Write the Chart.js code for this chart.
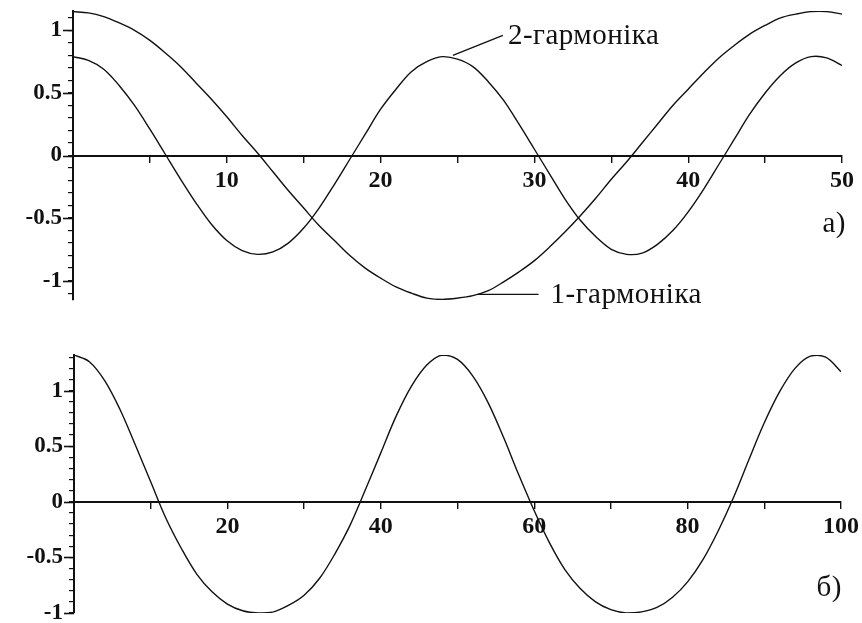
<!DOCTYPE html>
<html>
<head>
<meta charset="utf-8">
<script src="https://cdn.jsdelivr.net/npm/chart.js@4.4.0/dist/chart.umd.min.js"></script>
<style>
  html, body { margin: 0; padding: 0; background: #fff; }
  #wrap { position: relative; width: 862px; height: 623px; }
  .box { position: absolute; left: 0; width: 862px; }
  #top { top: 0; height: 320px; }
  #bottom { top: 320px; height: 303px; }
</style>
</head>
<body>
<div id="wrap">
  <div class="box" id="top"><canvas id="chartA"></canvas></div>
  <div class="box" id="bottom"><canvas id="chartB"></canvas></div>
</div>
<script>
// а) first and second harmonic, sampled every 1 unit from 0 to 50
const stepA = 1;
const harm1 = [1.15, 1.14, 1.11, 1.06, 1.00, 0.92, 0.82, 0.71, 0.58, 0.45, 0.31, 0.16, 0.02, -0.13, -0.28, -0.42, -0.56,
  -0.68, -0.80, -0.90, -0.98, -1.05, -1.10, -1.14, -1.15, -1.14, -1.12, -1.08, -1.01, -0.93, -0.84, -0.73, -0.61,
  -0.48, -0.34, -0.19, -0.05, 0.10, 0.25, 0.40, 0.53, 0.66, 0.78, 0.88, 0.97, 1.04, 1.10, 1.13, 1.15, 1.15, 1.13];
const harm2 = [0.79, 0.76, 0.69, 0.56, 0.40, 0.21, 0.01, -0.19, -0.38, -0.55, -0.68, -0.76, -0.79, -0.77, -0.70, -0.58,
  -0.42, -0.23, -0.03, 0.17, 0.37, 0.53, 0.67, 0.75, 0.79, 0.77, 0.71, 0.59, 0.44, 0.25, 0.05, -0.15, -0.35, -0.52,
  -0.65, -0.75, -0.79, -0.78, -0.71, -0.60, -0.45, -0.27, -0.07, 0.13, 0.33, 0.50, 0.64, 0.74, 0.79, 0.78, 0.72];

// б) resulting signal, sampled every 2 units from 0 to 100
const stepB = 2;
const signal = [1.32, 1.26, 1.09, 0.83, 0.51, 0.18, -0.15, -0.42, -0.65, -0.81, -0.92, -0.98, -1.00, -0.99, -0.93,
  -0.84, -0.69, -0.47, -0.21, 0.11, 0.44, 0.77, 1.04, 1.23, 1.32, 1.28, 1.13, 0.89, 0.58, 0.24, -0.08, -0.37, -0.61,
  -0.78, -0.90, -0.97, -1.00, -0.99, -0.95, -0.86, -0.72, -0.52, -0.26, 0.04, 0.38, 0.71, 0.99, 1.20, 1.31, 1.30, 1.17];

const seriesNames = ['1-гармоніка', '2-гармоніка'];
const panelNames = ['а)', 'б)'];

const ink = '#111';
const serif = '"Liberation Serif", "Times New Roman", serif';

const toPoints = (vals, step) => vals.map((v, i) => ({ x: i * step, y: v }));
const isHalf = v => Math.abs(v * 2 - Math.round(v * 2)) < 1e-6;

// longer marks at every 0.5 on the y axis (the 0 mark runs the x axis a bit to the left)
const majorTicks = {
  id: 'majorTicks',
  afterDraw(chart) {
    const y = chart.scales.y, ctx = chart.ctx, left = chart.chartArea.left;
    ctx.save();
    ctx.strokeStyle = ink;
    ctx.lineWidth = 1.6;
    y.ticks.forEach(t => {
      if (!isHalf(t.value)) return;
      const py = Math.round(y.getPixelForValue(t.value)) + 0.5;
      ctx.beginPath();
      ctx.moveTo(left - 10, py);
      ctx.lineTo(left, py);
      ctx.stroke();
    });
    ctx.restore();
  }
};

// text notes with optional leader lines, anchored in data coordinates
const notes = {
  id: 'notes',
  afterDatasetsDraw(chart, args, opts) {
    const { x, y } = chart.scales, ctx = chart.ctx;
    ctx.save();
    ctx.strokeStyle = ink;
    ctx.fillStyle = ink;
    ctx.lineWidth = 1.3;
    ctx.font = opts.font;
    ctx.letterSpacing = '0.5px';
    ctx.textBaseline = 'middle';
    opts.items.forEach(n => {
      const px = x.getPixelForValue(n.at[0]), py = y.getPixelForValue(n.at[1]);
      if (n.line) {
        ctx.beginPath();
        ctx.moveTo(px, py);
        ctx.lineTo(px + n.dx, py + n.dy);
        ctx.stroke();
      }
      ctx.textAlign = n.align || 'left';
      ctx.fillText(n.text, px + n.dx + (n.gap || 0), py + n.dy + 1);
    });
    ctx.restore();
  }
};

function lineSet(label, data) {
  return {
    label, data,
    borderColor: ink, borderWidth: 1.4,
    pointRadius: 0, fill: false,
    tension: 0.35
  };
}

function makeChart(id, cfg) {
  return new Chart(document.getElementById(id), {
    type: 'line',
    data: { datasets: cfg.datasets },
    options: {
      responsive: true, maintainAspectRatio: false, animation: false,
      layout: { padding: cfg.padding },
      plugins: { legend: { display: false }, tooltip: { enabled: false }, notes: { items: cfg.notes, font: '29px ' + serif } },
      scales: {
        x: {
          type: 'linear', min: cfg.xMin, max: cfg.xMax, position: { y: 0 },
          border: { color: ink, width: 2 },
          grid: { drawOnChartArea: false, tickLength: 6, color: ink, lineWidth: 1.4 },
          ticks: {
            stepSize: cfg.xStep, autoSkip: false, maxRotation: 0, padding: 5, color: ink,
            font: { family: serif, size: 24, weight: 'bold' },
            callback: v => (v !== 0 && v % cfg.xLabelEvery === 0) ? String(v) : ''
          },
          afterFit: s => { s.paddingLeft = 0; s.paddingRight = 0; }
        },
        y: {
          min: cfg.yMin, max: cfg.yMax,
          border: { color: ink, width: 2 },
          grid: { drawOnChartArea: false, tickLength: 5, color: ink, lineWidth: 1.2 },
          ticks: {
            stepSize: 0.1, includeBounds: false, autoSkip: false, padding: 6, color: ink,
            font: { family: serif, size: 23, weight: 'bold' },
            callback: v => isHalf(v) ? String(Math.round(v * 2) / 2) : ''
          },
          afterFit: s => { s.width = cfg.axisLeft; s.paddingTop = 0; s.paddingBottom = 0; }
        }
      }
    },
    plugins: [majorTicks, notes]
  });
}

makeChart('chartA', {
  datasets: [lineSet(seriesNames[0], toPoints(harm1, stepA)), lineSet(seriesNames[1], toPoints(harm2, stepA))],
  xMin: 0, xMax: 50, xStep: 5, xLabelEvery: 10,
  yMin: -1.155, yMax: 1.155,
  axisLeft: 73,
  padding: { left: 0, right: 20, top: 11, bottom: 20 },
  notes: [
    { text: seriesNames[1], at: [24.7, 0.8], line: true, dx: 50, dy: -20, gap: 5 },
    { text: seriesNames[0], at: [26.3, -1.11], line: true, dx: 61, dy: 0, gap: 12 },
    { text: panelNames[0], at: [50, -0.54], dx: 4, dy: 0, align: 'right' }
  ]
});

makeChart('chartB', {
  datasets: [lineSet('', toPoints(signal, stepB))],
  xMin: 0, xMax: 100, xStep: 10, xLabelEvery: 20,
  yMin: -1.0, yMax: 1.32,
  axisLeft: 74,
  padding: { left: 0, right: 21, top: 35, bottom: 10 },
  notes: [
    { text: panelNames[1], at: [100, -0.77], dx: 1, dy: 0, align: 'right' }
  ]
});
</script>
</body>
</html>
